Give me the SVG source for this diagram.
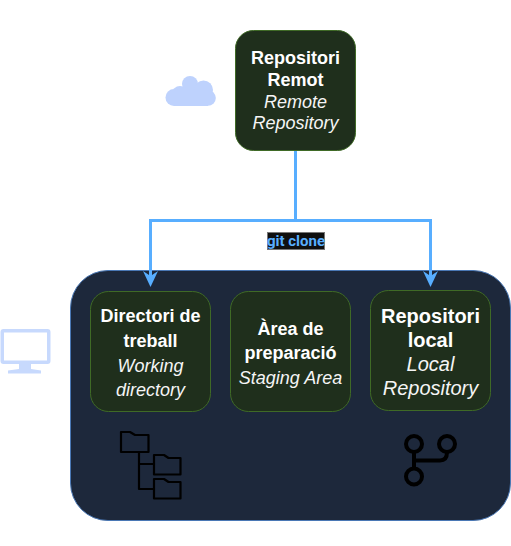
<svg xmlns="http://www.w3.org/2000/svg" width="511" height="546" viewBox="0 0 511 546">
<style>
text{font-family:"Liberation Sans",Arial,sans-serif;fill:#f5f5f5;text-anchor:middle}
.b{font-weight:700;fill:#fff}.i{font-style:italic}
.n{fill:#1f2f1c;stroke:#3f6a26}
.c{fill:none;stroke:#58aeff;stroke-width:3}
.k{fill:none;stroke:#000;stroke-width:2.200;stroke-linejoin:round;stroke-linecap:round}
.s{font-size:18px}.m{font-size:20px}
</style>
<defs><marker id="a" markerUnits="userSpaceOnUse" markerWidth="17" markerHeight="17" refX="10" refY="8.500" orient="auto" viewBox="0 0 17 17"><path d="M0 1 L16 8.500 L0 16 L5 8.500Z" fill="#58aeff"/></marker></defs>
<g id="local-zone"><rect x="70.500" y="270.500" width="440" height="250" rx="37.500" fill="#1d283b" stroke="#4a78b5"/></g>
<g id="connectors">
<path class="c" marker-end="url(#a)" d="M295.500 151V220.500H150.500V281"/>
<path class="c" marker-end="url(#a)" d="M295.500 151V220.500H430.500V281"/>
</g>
<g id="edge-label"><rect x="267.500" y="232.500" width="57" height="17" fill="#0f0f0f" stroke="#777"/><text x="296" y="246" class="b" style="font-family:Roboto,sans-serif;font-size:15px;fill:#58aeff">git clone</text></g>
<g id="remote"><rect class="n" x="235.500" y="30.500" width="120" height="120" rx="18"/>
<text class="b s" x="295.500" y="64">Repositori</text><text class="b s" x="295.500" y="86">Remot</text><text class="i s" x="295.500" y="108">Remote</text><text class="i s" x="295.500" y="129">Repository</text></g>
<g id="working"><rect class="n" x="90.500" y="291.500" width="120" height="120" rx="18"/>
<text class="b s" x="150.500" y="322">Directori de</text><text class="b s" x="150.500" y="347">treball</text><text class="i s" x="150.500" y="372">Working</text><text class="i s" x="150.500" y="396">directory</text></g>
<g id="staging"><rect class="n" x="230.500" y="291.500" width="120" height="120" rx="18"/>
<text class="b s" x="290.500" y="335">Àrea de</text><text class="b s" x="290.500" y="359">preparació</text><text class="i s" x="290.500" y="384">Staging Area</text></g>
<g id="local"><rect class="n" x="370.500" y="290.500" width="120" height="120" rx="18"/>
<text class="b m" x="430.500" y="323">Repositori</text><text class="b m" x="430.500" y="347">local</text><text class="i m" x="430.500" y="371">Local</text><text class="i m" x="430.500" y="395">Repository</text></g>
<g id="cloud" fill="#bed2fd"><circle cx="190" cy="84" r="8"/><circle cx="203.500" cy="90" r="9.500"/><circle cx="180" cy="94" r="8"/><circle cx="174" cy="97.500" r="8.500"/><circle cx="208" cy="98" r="7.800"/><rect x="174" y="90" width="34" height="16"/></g>
<g id="monitor"><path fill-rule="evenodd" d="M3.500 329H47.500Q50.500 329 50.500 332V361Q50.500 364 47.500 364H31V369L41 370.500V373.500H8V370.500L19 369V364H3.500Q0.500 364 0.500 361V332Q0.500 329 3.500 329ZM4 332.500V360.500H47V332.500Z" fill="#c7d9fd"/></g>
<g id="folders" class="k">
<path d="M121 432H130L135 435H148.500V452H121Z"/>
<path d="M154 455H164L168.500 458H180.500V474.500H154Z"/>
<path d="M154 479H164L168.500 482H180.500V498.500H154Z"/>
<path d="M139 452V489H154M139 464H154"/>
</g>
<g id="branch" class="k" style="stroke-width:4px">
<circle cx="414" cy="444" r="8"/><circle cx="447" cy="444" r="8"/><circle cx="414" cy="476.500" r="8"/>
<path d="M414 452V468M414 460.500H440Q447 460.500 447 452"/>
</g>
</svg>
